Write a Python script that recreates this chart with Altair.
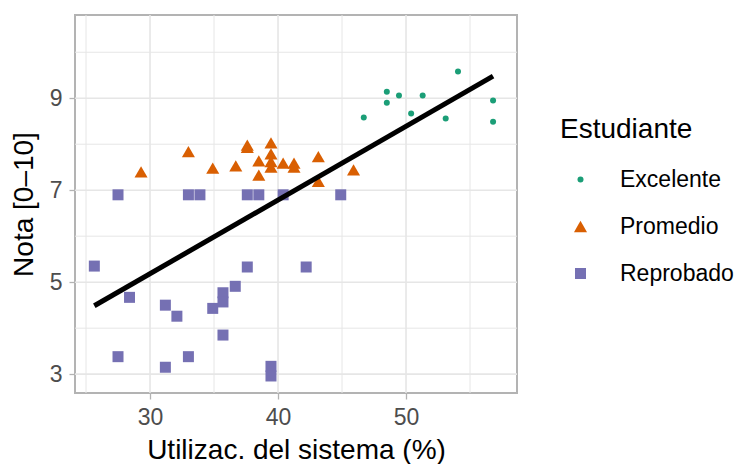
import altair as alt
import pandas as pd

# ---- data ----
exc_x = [46.7, 48.5, 48.5, 49.45, 50.4, 51.3, 53.1, 54.06, 56.8, 56.8]
exc_y = [8.58, 9.14, 8.90, 9.06, 8.67, 9.06, 8.56, 9.58, 8.95, 8.49]

prom_x = [29.3, 33.0, 34.9, 36.7, 37.6, 37.6, 38.5, 38.5, 39.45, 39.45,
          39.45, 39.45, 40.4, 41.25, 41.25, 43.15, 43.15, 45.9]
prom_y = [7.40, 7.84, 7.48, 7.53, 7.98, 7.93, 7.64, 7.33, 8.03, 7.79,
          7.62, 7.50, 7.59, 7.59, 7.50, 7.73, 7.19, 7.44]

rep_x = [27.5, 33.0, 33.9, 37.6, 38.5, 40.4, 44.9, 25.65, 28.4, 31.2,
         32.1, 34.9, 35.7, 35.7, 36.66, 37.6, 42.2, 35.7, 27.5, 31.2,
         33.0, 39.45, 39.45]
rep_y = [6.90, 6.90, 6.90, 6.90, 6.90, 6.90, 6.90, 5.35, 4.67, 4.50,
         4.26, 4.43, 4.77, 4.57, 4.91, 5.33, 5.33, 3.85, 3.38, 3.15,
         3.38, 3.17, 2.96]

groups = ["Excelente", "Promedio", "Reprobado"]
colors = ["#1B9E77", "#D95F02", "#7570B3"]
shapes = ["circle", "triangle-up", "square"]
sizes = [36, 170, 121]

x_ticks = [30, 40, 50]
x_minor = [25, 35, 45, 55]
y_ticks = [3, 5, 7, 9]
y_minor = [4, 6, 8, 10]

x_domain = [24.14, 58.67]
y_domain = [2.59, 10.81]

# ---- tables ----
pts = pd.DataFrame({
    "uso": exc_x + prom_x + rep_x,
    "nota": exc_y + prom_y + rep_y,
    "grupo": [groups[0]] * len(exc_x) + [groups[1]] * len(prom_x) + [groups[2]] * len(rep_x),
})

xscale = alt.Scale(domain=x_domain, nice=False, zero=False)
yscale = alt.Scale(domain=y_domain, nice=False, zero=False)
xaxis = alt.Axis(values=x_ticks, grid=False, title="Utilizac. del sistema (%)")
yaxis = alt.Axis(values=y_ticks, grid=False, title="Nota [0–10]", titlePadding=11)

X = lambda: alt.X("uso:Q", scale=xscale, axis=xaxis)
Y = lambda: alt.Y("nota:Q", scale=yscale, axis=yaxis)

grid_col = "#E6E6E6"
vminor = alt.Chart(pd.DataFrame({"uso": x_minor})).mark_rule(color=grid_col, strokeWidth=1).encode(x=X())
vmajor = alt.Chart(pd.DataFrame({"uso": x_ticks})).mark_rule(color=grid_col, strokeWidth=1.6).encode(x=X())
hminor = alt.Chart(pd.DataFrame({"nota": y_minor})).mark_rule(color=grid_col, strokeWidth=1).encode(y=Y())
hmajor = alt.Chart(pd.DataFrame({"nota": y_ticks})).mark_rule(color=grid_col, strokeWidth=1.6).encode(y=Y())

points = alt.Chart(pts).mark_point(filled=True, opacity=1).encode(
    x=X(),
    y=Y(),
    color=alt.Color("grupo:N", scale=alt.Scale(domain=groups, range=colors), title="Estudiante"),
    shape=alt.Shape("grupo:N", scale=alt.Scale(domain=groups, range=shapes), title="Estudiante"),
    size=alt.Size("grupo:N", scale=alt.Scale(type="ordinal", domain=groups, range=sizes), title="Estudiante"),
)

fit = alt.Chart(pts).transform_regression("uso", "nota").mark_line(
    color="black", strokeWidth=5, strokeCap="butt"
).encode(x=X(), y=Y())

chart = alt.layer(vminor, vmajor, hminor, hmajor, points, fit).properties(
    width=442, height=378,
    autosize=alt.AutoSizeParams(type="none"),
    padding={"left": 75, "top": 15, "right": 221, "bottom": 71},
).configure(
    font="Liberation Sans",
    background="white",
).configure_view(
    stroke="#B3B3B3", strokeWidth=2,
).configure_axis(
    domain=False,
    tickColor="#B3B3B3", tickSize=6, tickWidth=1.3,
    labelFontSize=23, labelColor="#4D4D4D", labelPadding=7,
    titleFontSize=28, titleFontWeight="normal", titleColor="black",
    titlePadding=7,
).configure_legend(
    orient="none", legendX=485, legendY=101,
    padding=0,
    titleFontSize=28, titleFontWeight="normal", titleColor="black",
    titlePadding=24,
    labelFontSize=23, labelColor="black",
    rowPadding=23, symbolOffset=9, labelOffset=28,
    symbolStrokeWidth=0,
)

chart.save("out.html", embed_options={"renderer": "svg", "actions": False})
